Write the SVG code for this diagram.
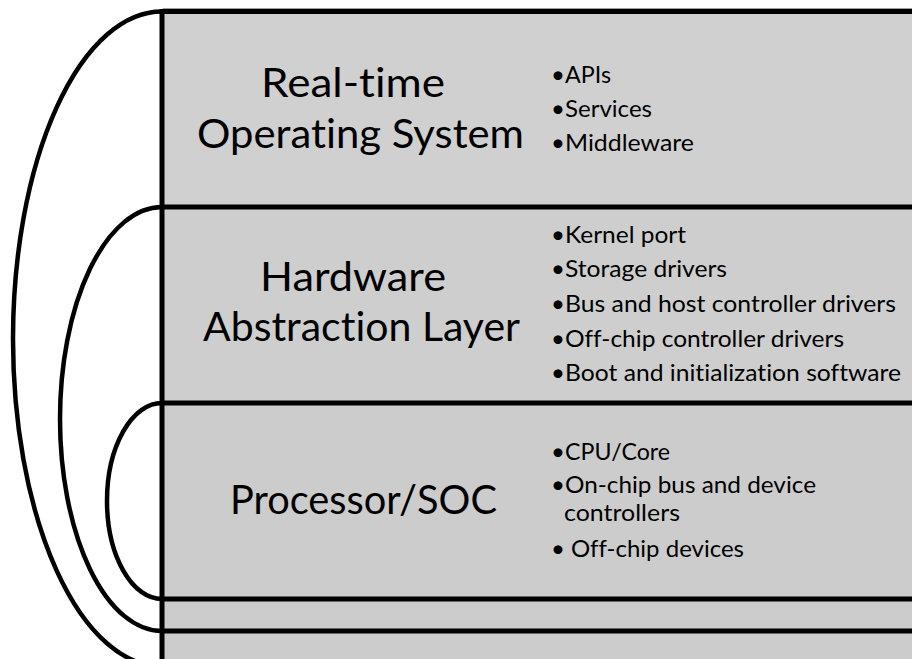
<svg xmlns="http://www.w3.org/2000/svg" width="912" height="659" viewBox="0 0 912 659">
  <style>
    .box { stroke: #a0a0a0; stroke-width: 1; }
    .rule { stroke: #000; stroke-width: 5; fill: none; }
    .arc { stroke: #000; stroke-width: 4.5; fill: none; }
    text { font-variant-ligatures: none; }
    .title { font-family: Lato, "Liberation Sans", sans-serif; font-size: 40px; fill: #000; }
    .item { font-family: Lato, "Liberation Sans", sans-serif; font-size: 22.5px; fill: #000; }
    .dot { font-family: Lato, "Liberation Sans", sans-serif; font-size: 24px; fill: #000; text-anchor: middle; }
  </style>
  <rect x="0" y="0" width="912" height="659" fill="#ffffff"/>

  <g id="rtos">
    <rect class="box" x="163" y="8.5" width="760" height="199" fill="#d0d0d0"/>
    <text class="title" x="261" y="97" textLength="184" lengthAdjust="spacingAndGlyphs">Real-time</text>
    <text class="title" x="197" y="148" textLength="327" lengthAdjust="spacingAndGlyphs">Operating System</text>
    <text class="dot" x="558" y="83">•</text>
    <text class="item" x="565" y="83" textLength="46" lengthAdjust="spacingAndGlyphs">APIs</text>
    <text class="dot" x="558" y="117">•</text>
    <text class="item" x="565" y="117" textLength="87" lengthAdjust="spacingAndGlyphs">Services</text>
    <text class="dot" x="558" y="151">•</text>
    <text class="item" x="565" y="151" textLength="129" lengthAdjust="spacingAndGlyphs">Middleware</text>
  </g>

  <g id="hal">
    <rect class="box" x="163" y="207" width="760" height="196" fill="#cecece"/>
    <text class="title" x="260" y="291" textLength="186" lengthAdjust="spacingAndGlyphs">Hardware</text>
    <text class="title" x="203" y="341" textLength="317" lengthAdjust="spacingAndGlyphs">Abstraction Layer</text>
    <text class="dot" x="558" y="243">•</text>
    <text class="item" x="565" y="243" textLength="121" lengthAdjust="spacingAndGlyphs">Kernel port</text>
    <text class="dot" x="558" y="277">•</text>
    <text class="item" x="565" y="277" textLength="162" lengthAdjust="spacingAndGlyphs">Storage drivers</text>
    <text class="dot" x="558" y="312">•</text>
    <text class="item" x="565" y="312" textLength="331" lengthAdjust="spacingAndGlyphs">Bus and host controller drivers</text>
    <text class="dot" x="558" y="347">•</text>
    <text class="item" x="565" y="347" textLength="279" lengthAdjust="spacingAndGlyphs">Off-chip controller drivers</text>
    <text class="dot" x="558" y="381">•</text>
    <text class="item" x="565" y="381" textLength="336" lengthAdjust="spacingAndGlyphs">Boot and initialization software</text>
  </g>

  <g id="soc">
    <rect class="box" x="163" y="403" width="760" height="196" fill="#cccccc"/>
    <text class="title" x="230" y="514" textLength="267" lengthAdjust="spacingAndGlyphs">Processor/SOC</text>
    <text class="dot" x="558" y="460">•</text>
    <text class="item" x="565" y="460" textLength="105" lengthAdjust="spacingAndGlyphs">CPU/Core</text>
    <text class="dot" x="558" y="493">•</text>
    <text class="item" x="565" y="493" textLength="251" lengthAdjust="spacingAndGlyphs">On-chip bus and device</text>
    <text class="item" x="564" y="521" textLength="116" lengthAdjust="spacingAndGlyphs">controllers</text>
    <text class="dot" x="558" y="557">•</text>
    <text class="item" x="571" y="557" textLength="173" lengthAdjust="spacingAndGlyphs">Off-chip devices</text>
  </g>

  <g id="band1">
    <rect class="box" x="163" y="599" width="760" height="32" fill="#cccccc"/>
  </g>
  <g id="band2">
    <rect class="box" x="163" y="631" width="760" height="40" fill="#cccccc"/>
  </g>

  <g id="rules">
    <line class="rule" x1="162" y1="11.5" x2="912" y2="11.5"/>
    <line class="rule" x1="162" y1="207" x2="912" y2="207"/>
    <line class="rule" x1="162" y1="403" x2="912" y2="403"/>
    <line class="rule" x1="162" y1="599" x2="912" y2="599"/>
    <line class="rule" x1="162" y1="631" x2="912" y2="631"/>
    <line class="rule" x1="162" y1="9" x2="162" y2="659"/>
  </g>

  <g id="connectors">
    <path class="arc" d="M162,11.5 A149,327.5 0 0 0 162,666.5"/>
    <path class="arc" d="M162,207 A102,212 0 0 0 162,631"/>
    <path class="arc" d="M162,403 A55,98 0 0 0 162,599"/>
  </g>
</svg>
